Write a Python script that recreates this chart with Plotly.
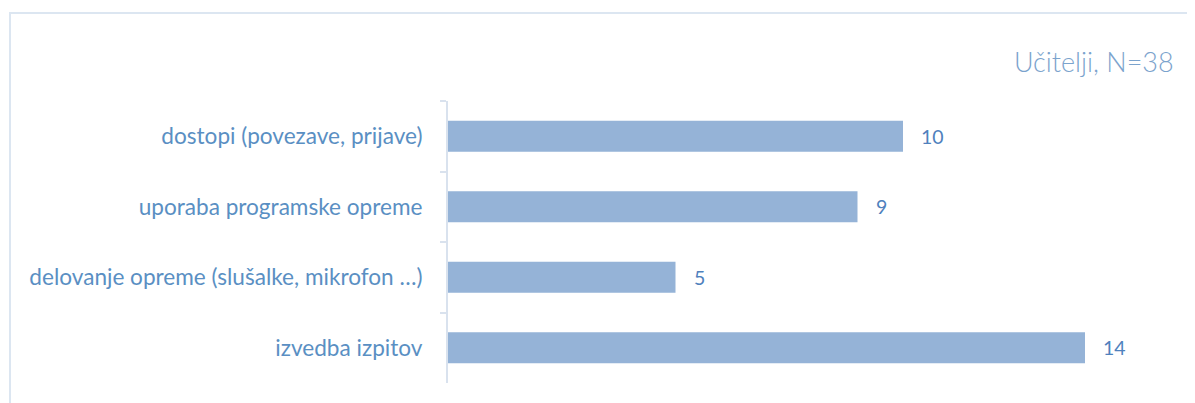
import plotly.graph_objects as go

categories = ["dostopi (povezave, prijave)", "uporaba programske opreme",
              "delovanje opreme (slušalke, mikrofon …)", "izvedba izpitov"]
values = [10, 9, 5, 14]
title_text = "Učitelji, N=38"

# page has an 8px body margin; figure sized to fill the rest
OFF = 8
W, H = 1195 - OFF, 403 - OFF
ml, mr, mt, mb = 440, 19, 93, 20
xmax = 16

fig = go.Figure(go.Bar(
    x=values, y=categories, orientation="h",
    marker=dict(color="#95b3d7", line=dict(width=0)),
    hoverinfo="skip",
))

for c, v in zip(categories, values):
    fig.add_annotation(x=v, y=c, text=str(v), showarrow=False, xanchor="left",
                       xshift=16, font=dict(family="Lato", size=19.5, color="#4f81bd"))

pw = W - ml - mr
ph = H - mt - mb
def px2x(p):
    return (p - OFF - ml) / pw
def py2y(p):
    return 1 - (p - OFF - mt) / ph

fig.add_shape(type="rect", xref="paper", yref="paper",
              x0=px2x(10), x1=px2x(1210), y0=py2y(13), y1=py2y(420),
              line=dict(color="#dce6f1", width=2), layer="below")

fig.add_annotation(xref="paper", yref="paper", x=px2x(1176), y=py2y(62),
                   xanchor="right", yanchor="middle", text=title_text, showarrow=False,
                   font=dict(family="Lato", size=27, color="#7ba3cd", weight=300))

fig.update_layout(
    width=W, height=H,
    margin=dict(l=ml, r=mr, t=mt, b=mb, pad=0),
    paper_bgcolor="white", plot_bgcolor="white",
    bargap=0.56, showlegend=False,
    xaxis=dict(range=[0, xmax], visible=False, fixedrange=True),
    yaxis=dict(autorange="reversed", showline=True, linecolor="#d9e2ee", linewidth=2,
               ticks="outside", tickson="boundaries", ticklen=6, tickcolor="#d9e2ee",
               tickwidth=2, ticklabelstandoff=19, showgrid=False,
               tickfont=dict(family="Lato", size=22.6, color="#5a8fc3")),
)

fig.write_html("out.html")
